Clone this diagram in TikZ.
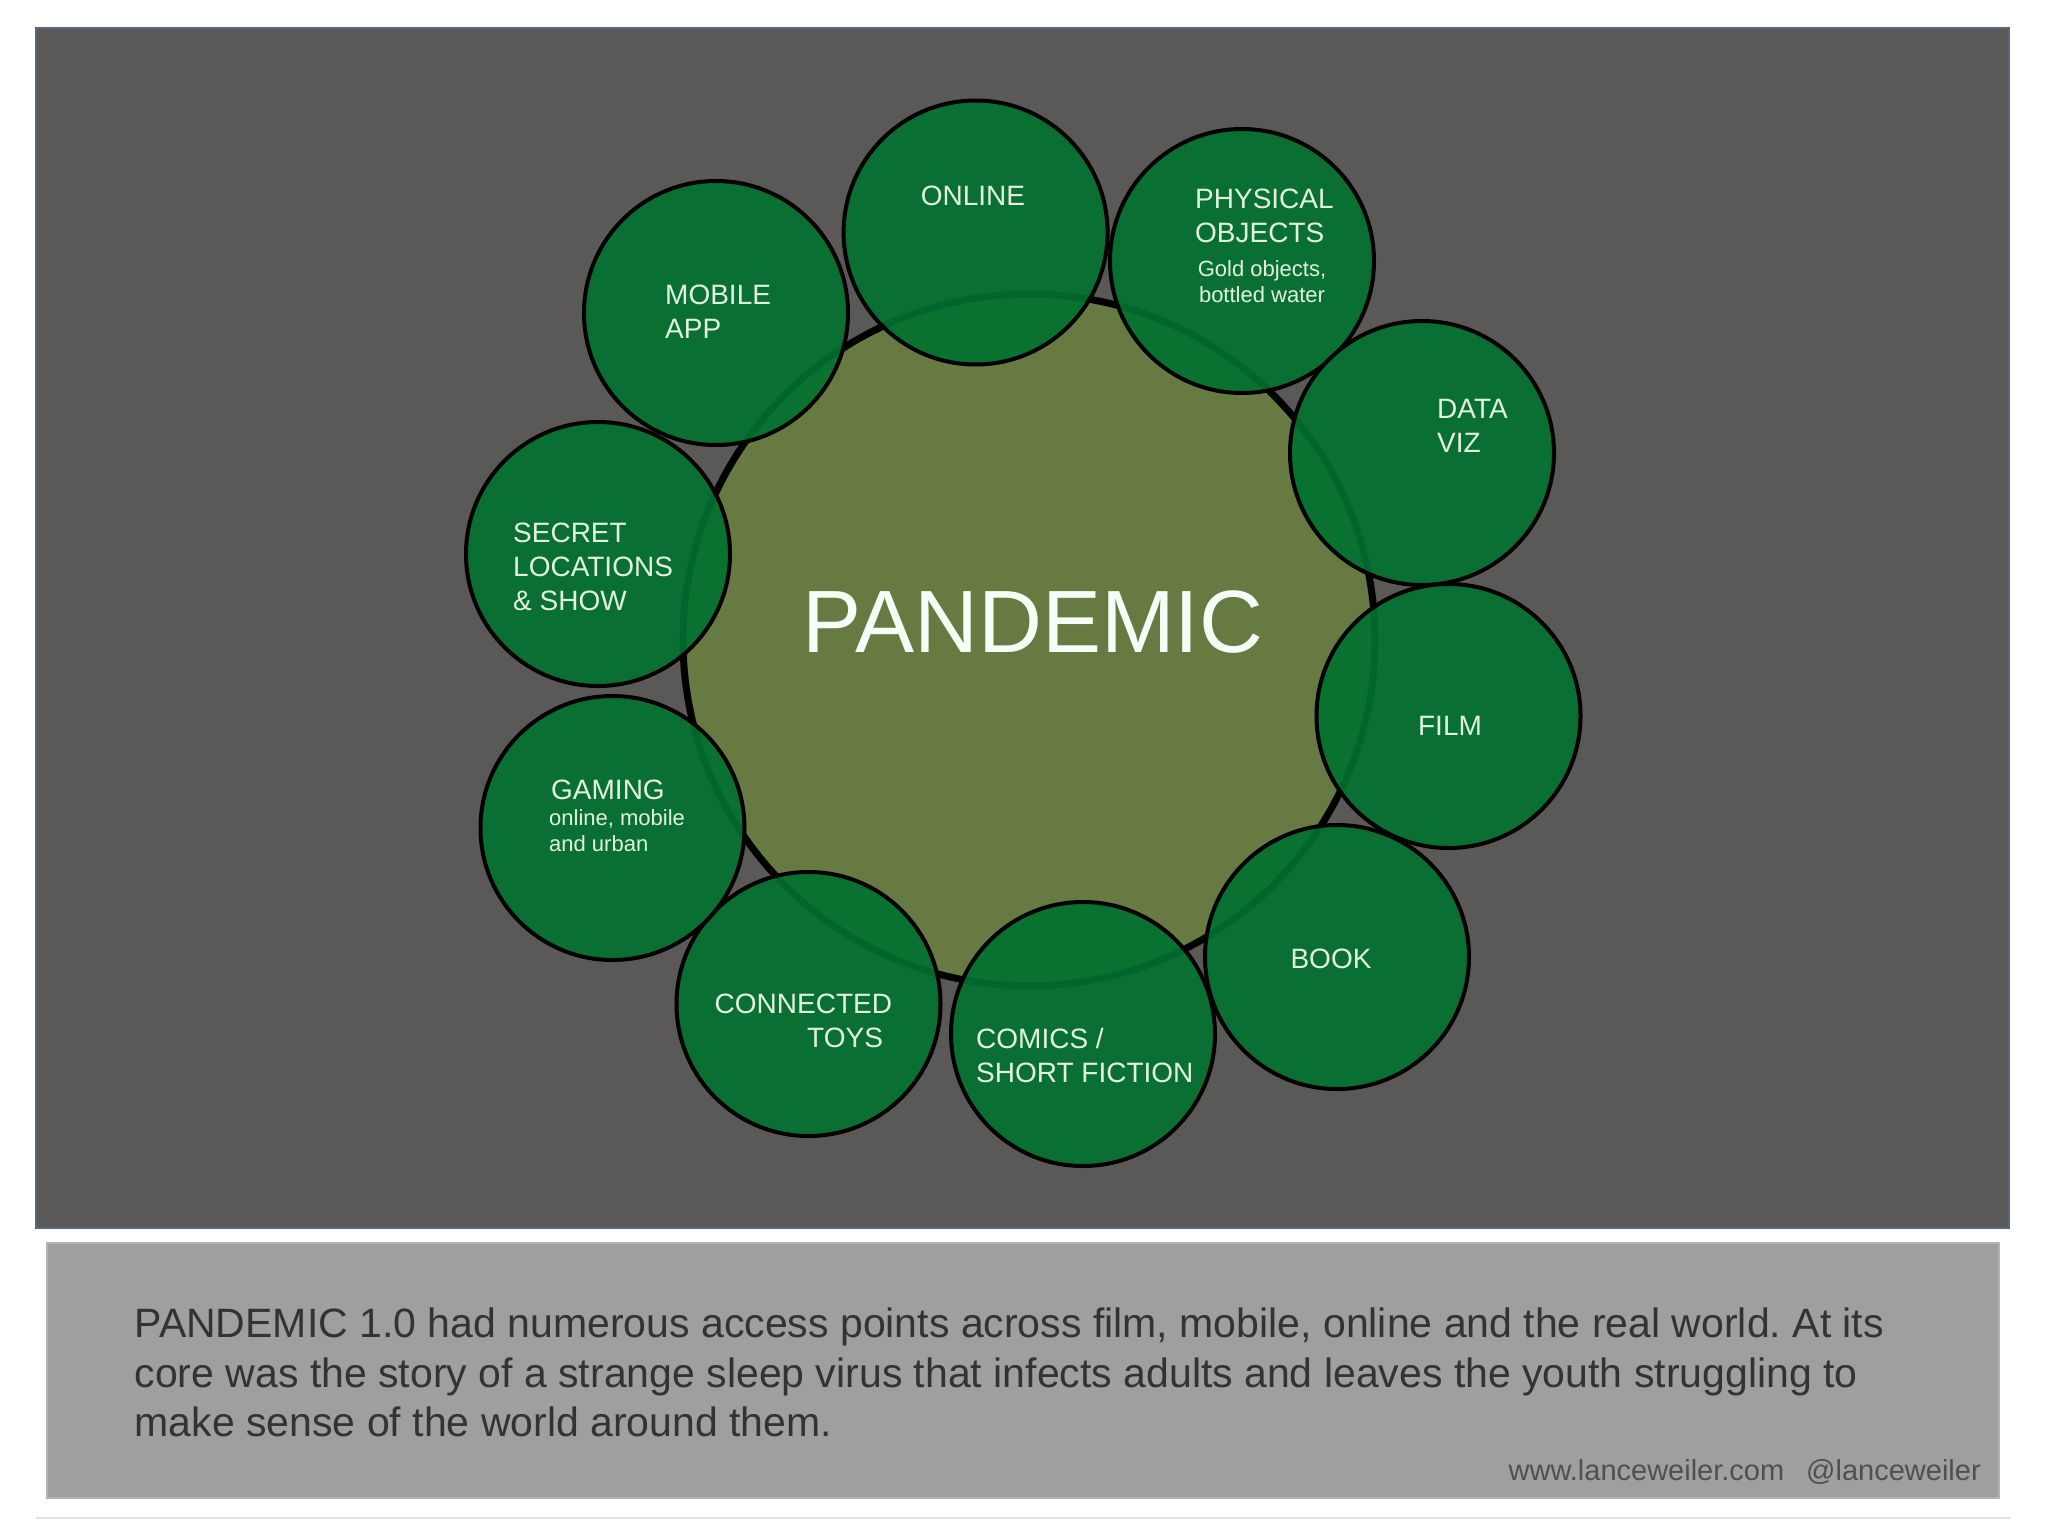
\documentclass[tikz,border=0pt]{standalone}
\usepackage{fontspec}
\setmainfont{Liberation Sans}
\definecolor{panel}{HTML}{5A5957}
\definecolor{panelrim}{HTML}{56677E}
\definecolor{capbox}{HTML}{A09FA0}
\definecolor{caprim}{HTML}{B4B3B4}
\definecolor{satgreen}{HTML}{017230}
\definecolor{coreolive}{HTML}{667A42}
\definecolor{labeltxt}{HTML}{E2F2DE}
\definecolor{captxt}{HTML}{333333}
\definecolor{credtxt}{HTML}{505050}
\begin{document}
\begin{tikzpicture}[x=1pt,y=-1pt,
  sat/.style={circle,minimum size=264pt,inner sep=0pt,fill=satgreen,fill opacity=0.9,draw=black,line width=4pt},
  lbl/.style={text=labeltxt,inner sep=0pt,font=\fontsize{28}{34}\selectfont},
  sublbl/.style={text=labeltxt,inner sep=0pt,font=\fontsize{22}{26}\selectfont},
]
\useasboundingbox (0,0) rectangle (2048,1536);
\fill[white] (0,0) rectangle (2048,1536);
% panel
\fill[panel,draw=panelrim,line width=2pt] (36,28) rectangle (2009,1228);
% caption box
\fill[capbox,draw=caprim,line width=2pt] (47,1243) rectangle (1999,1498);
\draw[black!12,line width=2pt] (36,1518) -- (2010,1518);
% core
\node[circle,minimum size=692pt,inner sep=0pt,fill=coreolive,draw=black,line width=7pt] (core) at (1029,640) {};
% satellites
\node[sat] (online) at (975.6,232.5) {};
\node[sat] (physical) at (1242,261) {};
\node[sat] (dataviz) at (1422,453) {};
\node[sat] (film) at (1448.5,716) {};
\node[sat] (book) at (1337,957) {};
\node[sat] (comics) at (1083,1034) {};
\node[sat] (toys) at (808.5,1004) {};
\node[sat] (gaming) at (612.5,828) {};
\node[sat] (secret) at (598,554) {};
\node[sat] (mobile) at (716,313) {};
% labels
\node[text=white!96!green,inner sep=0pt,font=\fontsize{88.5}{92}\selectfont] (title) at (1033,622) {PANDEMIC};
\node[lbl] (tonline) at (973,196) {ONLINE};
\node[lbl,align=left,anchor=west] (tphys) at (1195,215.5) {PHYSICAL\\OBJECTS};
\node[sublbl,align=center] (tphyssub) at (1262,282) {Gold objects,\\bottled water};
\node[lbl,align=left,anchor=west] (tmobile) at (665,311.5) {MOBILE\\APP};
\node[lbl,align=left,anchor=west] (tdata) at (1437,426) {DATA\\VIZ};
\node[lbl,align=left,anchor=west] (tsecret) at (513,567) {SECRET\\LOCATIONS\\\& SHOW};
\node[lbl] (tfilm) at (1450,726) {FILM};
\node[lbl,anchor=west] (tgaming) at (551,790) {GAMING};
\node[sublbl,align=left,anchor=west] (tgamingsub) at (549,831) {online, mobile\\and urban};
\node[lbl,anchor=west] (tconn) at (714.5,1004) {CONNECTED};
\node[lbl,anchor=west] (ttoys) at (807,1038) {TOYS};
\node[lbl,align=left,anchor=west] (tcomics) at (976,1055) {COMICS /\\SHORT FICTION};
\node[lbl] (tbook) at (1331,959) {BOOK};
% caption
\node[text=captxt,inner sep=0pt,align=left,anchor=west,font=\fontsize{41}{49.5}\selectfont\frenchspacing] (caption) at (134.5,1372.5)
 {PANDEMIC 1.0 had numerous access points across film, mobile, online and the real world. At its\\
  core was the story of a strange sleep virus that infects adults and leaves the youth struggling to\\
  make sense of the world around them.};
\node[text=credtxt,inner sep=0pt,anchor=east,font=\fontsize{29}{34}\selectfont] (credit) at (1981,1472)
 {www.lanceweiler.com\hspace{22pt}@lanceweiler};
\end{tikzpicture}
\end{document}
